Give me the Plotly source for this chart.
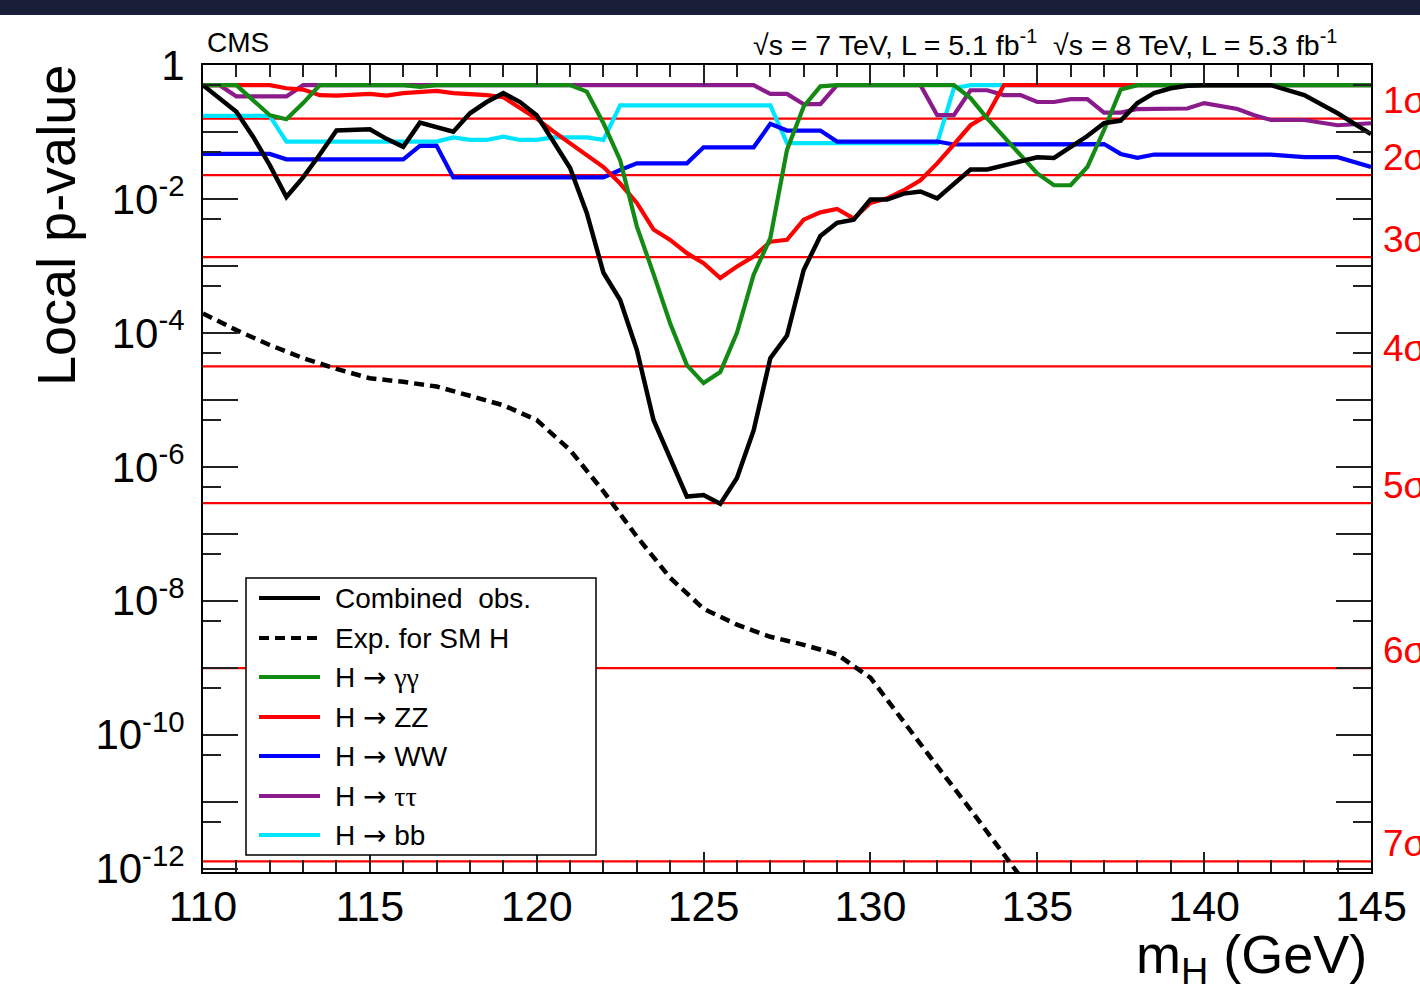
import math
import plotly.graph_objects as go

# ---------------- data ----------------
# Combined observed
m_obs = [110, 111, 111.5, 112, 112.5, 113, 113.5, 114, 115, 115.5, 116, 116.5, 117.5, 118, 118.5,
         119, 119.5, 120, 120.5, 121, 121.5, 122, 122.5, 123, 123.5, 124.5, 125, 125.5, 126, 126.5,
         127, 127.5, 128, 128.5, 129, 129.5, 130, 130.5, 131, 131.5, 132, 132.5, 133, 133.5, 134,
         134.5, 135, 135.5, 136, 136.5, 137, 137.5, 138, 138.5, 139, 139.5, 140, 142, 143, 144, 145]
p_obs = [0.5, 0.20, 0.085, 0.032, 0.0107, 0.021, 0.046, 0.105, 0.11, 0.079, 0.060, 0.138, 0.101, 0.19, 0.28,
         0.38, 0.28, 0.178, 0.072, 0.029, 0.0062, 7.9e-4, 3.1e-4, 5.6e-5, 5.0e-6, 3.6e-7, 3.8e-7, 2.8e-7, 6.8e-7, 3.5e-6,
         4.2e-5, 9.1e-5, 8.7e-4, 2.8e-3, 4.4e-3, 4.9e-3, 9.8e-3, 9.8e-3, 0.012, 0.0129, 0.0102, 0.017, 0.0275, 0.0275, 0.032,
         0.037, 0.042, 0.041, 0.059, 0.087, 0.135, 0.148, 0.27, 0.38, 0.45, 0.49, 0.5, 0.5, 0.355, 0.19, 0.093]

# Expected for SM Higgs
m_exp = [110, 111, 112, 113, 114, 115, 116, 117, 118, 119, 120, 121, 122, 123, 124, 125, 126,
         127, 128, 129, 130, 131, 132, 133, 134, 135]
p_exp = [1.95e-4, 1.1e-4, 6.6e-5, 4.2e-5, 2.9e-5, 2.1e-5, 1.86e-5, 1.58e-5, 1.15e-5, 8.3e-6, 5.0e-6,
         1.78e-6, 4.3e-7, 9.1e-8, 2.2e-8, 7.6e-9, 4.4e-9, 2.9e-9, 2.2e-9, 1.58e-9, 7.1e-10, 1.6e-10,
         3.4e-11, 7.6e-12, 1.66e-12, 3.5e-13]

# H -> gamma gamma
m_gg = [110, 111, 112, 112.5, 113, 113.5, 116, 116.5, 117, 121, 121.5, 122, 122.5, 123, 123.5, 124,
        124.5, 125, 125.5, 126, 126.5, 127, 127.5, 128, 128.5, 129, 132.5, 133, 133.5, 134, 134.5,
        135, 135.5, 136, 136.5, 137, 137.5, 138, 145]
p_gg = [0.5, 0.5, 0.178, 0.155, 0.27, 0.5, 0.5, 0.47, 0.5, 0.5, 0.40, 0.135, 0.038, 3.9e-3, 7.6e-4, 1.38e-4,
        3.3e-5, 1.78e-5, 2.6e-5, 1.0e-4, 7.4e-4, 2.6e-3, 0.054, 0.24, 0.48, 0.5, 0.5, 0.32, 0.16, 0.083, 0.045,
        0.024, 0.016, 0.016, 0.030, 0.107, 0.43, 0.5, 0.5]

# H -> ZZ
m_zz = [110, 112, 112.5, 113, 113.5, 114, 115, 115.5, 116, 116.5, 117, 117.5, 118.5, 119, 119.5, 120,
        120.5, 121, 121.5, 122, 122.5, 123, 123.5, 124, 124.5, 125, 125.5, 126, 126.5, 127, 127.5, 128,
        128.5, 129, 129.5, 130, 130.5, 131, 131.5, 132, 132.5, 133, 133.5, 134, 145]
p_zz = [0.5, 0.5, 0.45, 0.43, 0.355, 0.35, 0.37, 0.35, 0.38, 0.40, 0.41, 0.38, 0.355, 0.33, 0.224, 0.158,
        0.102, 0.068, 0.046, 0.030, 0.017, 8.7e-3, 3.5e-3, 2.45e-3, 1.55e-3, 1.1e-3, 6.6e-4, 9.8e-4, 1.38e-3,
        2.3e-3, 2.45e-3, 4.9e-3, 6.3e-3, 7.1e-3, 5.1e-3, 8.7e-3, 0.0102, 0.0135, 0.019, 0.034, 0.065, 0.126,
        0.178, 0.5, 0.5]

# H -> WW
m_ww = [110, 112, 112.5, 116, 116.5, 117, 117.5, 122, 122.5, 123, 124.5, 125, 126.5, 127, 127.5, 128.5,
        129, 132, 132.5, 137, 137.5, 138, 138.5, 142, 143, 144, 145]
p_ww = [0.047, 0.047, 0.039, 0.039, 0.062, 0.062, 0.021, 0.021, 0.027, 0.034, 0.034, 0.059, 0.059, 0.132,
        0.105, 0.105, 0.072, 0.072, 0.065, 0.066, 0.047, 0.041, 0.046, 0.046, 0.042, 0.042, 0.030]

# H -> tau tau
m_tt = [110, 110.5, 111, 112.5, 113, 126.5, 127, 127.5, 128, 128.5, 129, 131.5, 132, 132.5, 133, 133.5,
        134, 134.5, 135, 135.5, 136, 136.5, 137, 137.5, 138, 138.5, 139, 139.5, 140, 140.5, 141, 141.5,
        142, 143, 144, 145]
p_tt = [0.5, 0.5, 0.34, 0.34, 0.5, 0.5, 0.37, 0.37, 0.26, 0.26, 0.5, 0.5, 0.178, 0.178, 0.42, 0.42,
        0.355, 0.355, 0.28, 0.28, 0.31, 0.31, 0.195, 0.195, 0.22, 0.22, 0.224, 0.224, 0.27, 0.24, 0.22, 0.178,
        0.151, 0.151, 0.126, 0.135]

# H -> bb
m_bb = [110, 112, 112.5, 117, 117.5, 118, 118.5, 119, 119.5, 120, 120.5, 121.5, 122, 122.5, 127, 127.5,
        132, 132.5, 133, 145]
p_bb = [0.174, 0.174, 0.072, 0.072, 0.083, 0.076, 0.076, 0.085, 0.076, 0.076, 0.083, 0.083, 0.076, 0.25,
        0.25, 0.068, 0.068, 0.45, 0.5, 0.5]

# significance reference lines
sig_p = [0.1587, 0.02275, 1.350e-3, 3.167e-5, 2.867e-7, 9.866e-10, 1.280e-12]
sig_lbl = ["1σ", "2σ", "3σ", "4σ", "5σ", "6σ", "7σ"]

x_ticks = [110, 115, 120, 125, 130, 135, 140, 145]
y_decades = [0, -1, -2, -3, -4, -5, -6, -7, -8, -9, -10, -11, -12]

ARROW = "<span style='font-family:DejaVu Sans'>→</span>"
SERIF = "<span style='font-family:Liberation Serif'>%s</span>"
legend_names = ["Combined  obs.", "Exp. for SM H",
                "H " + ARROW + " " + SERIF % "γγ",
                "H " + ARROW + " ZZ", "H " + ARROW + " WW",
                "H " + ARROW + " " + SERIF % "ττ",
                "H " + ARROW + " bb"]

# ---------------- styling ----------------
FONT = "Liberation Sans"
C_OBS, C_GG, C_ZZ, C_WW, C_TT, C_BB = "#000000", "#138a13", "#ff0000", "#0000ff", "#8b1a8b", "#00e5ff"
W = 1420
H = 1003
L, R, T, B = 203, 49, 65, 131
PW, PH = W - L - R, H - T - B


def px(xpix):
    return (xpix - L) / PW


def py(ypix):
    return (H - B - ypix) / PH


fig = go.Figure()

for p in sig_p:
    fig.add_trace(go.Scatter(x=[110, 145], y=[p, p], mode="lines",
                             line=dict(color="#ff0000", width=2.2),
                             hoverinfo="skip", showlegend=False))

series = [
    (m_bb, p_bb, C_BB, "solid", 4.2),
    (m_tt, p_tt, C_TT, "solid", 4.2),
    (m_ww, p_ww, C_WW, "solid", 4.2),
    (m_zz, p_zz, C_ZZ, "solid", 4.2),
    (m_gg, p_gg, C_GG, "solid", 4.2),
    (m_exp, p_exp, C_OBS, "10px,6px", 4.5),
    (m_obs, p_obs, C_OBS, "solid", 4.5),
]
for mx, pv, col, dash, w in series:
    fig.add_trace(go.Scatter(x=mx, y=pv, mode="lines",
                             line=dict(color=col, width=w, dash=dash),
                             showlegend=False))

tick_text = []
for d in y_decades:
    if d == 0:
        tick_text.append("1")
    elif d % 2 == 0:
        tick_text.append("10<sup>%d</sup>" % d)
    else:
        tick_text.append("")

fig.update_layout(
    width=W, height=H, autosize=False,
    margin=dict(l=L, r=R, t=T, b=B, pad=0),
    paper_bgcolor="white", plot_bgcolor="white",
    font=dict(family=FONT, color="black"),
    xaxis=dict(range=[110, 145], tickvals=x_ticks, ticktext=[str(v) for v in x_ticks],
               ticks="inside", ticklen=20, tickwidth=1.5, tickcolor="#222",
               minor=dict(dtick=1, ticks="inside", ticklen=12, tickwidth=1.5, tickcolor="#222",
                          showgrid=False),
               showline=True, linecolor="black", linewidth=2, mirror="allticks",
               showgrid=False, zeroline=False,
               tickfont=dict(size=43, family=FONT, color="black"), ticklabelstandoff=-5),
    yaxis=dict(type="log", range=[-12.05, 0],
               tickvals=[10.0 ** d for d in y_decades], ticktext=tick_text,
               ticks="inside", ticklen=35, tickwidth=1.5, tickcolor="#222",
               minor=dict(tickvals=[5 * 10.0 ** (d - 1) for d in y_decades[:-1]], ticks="inside",
                          ticklen=18, tickwidth=1.5, tickcolor="#222", showgrid=False),
               showline=True, linecolor="black", linewidth=2, mirror="allticks",
               showgrid=False, zeroline=False,
               tickfont=dict(size=42, family=FONT, color="black"), ticklabelstandoff=8),
)

ann = []
# header texts
ann.append(dict(text="CMS", x=px(205), y=py(43), xref="paper", yref="paper",
                xanchor="left", yanchor="middle", showarrow=False,
                font=dict(size=28, family=FONT, color="black")))
ann.append(dict(text="√s = 7 TeV, L = 5.1 fb<sup>-1</sup>  √s = 8 TeV, L = 5.3 fb<sup>-1</sup>",
                x=px(1339), y=py(43), xref="paper", yref="paper",
                xanchor="right", yanchor="middle", showarrow=False,
                font=dict(size=28.5, family=FONT, color="black")))
# axis titles
ann.append(dict(text="Local p-value", x=px(56), y=py(226), xref="paper", yref="paper",
                xanchor="center", yanchor="middle", textangle=-90, showarrow=False,
                font=dict(size=54, family=FONT, color="black")))
ann.append(dict(text="m<sub>H</sub> (GeV)", x=px(1369), y=py(958), xref="paper", yref="paper",
                xanchor="right", yanchor="middle", showarrow=False,
                font=dict(size=54, family=FONT, color="black")))
# sigma labels
for p, lbl in zip(sig_p, sig_lbl):
    ann.append(dict(text=lbl, x=px(1381), y=math.log10(p), xref="paper", yref="y",
                    xanchor="left", yanchor="middle", yshift=18, showarrow=False,
                    font=dict(size=37, family=FONT, color="#ff0000")))

# manual legend (box, samples, labels)
shapes = []
shapes.append(dict(type="rect", xref="paper", yref="paper",
                   x0=px(246), x1=px(596), y0=py(855), y1=py(578),
                   line=dict(color="black", width=1.5), fillcolor="white", layer="above"))
leg_y = [598, 638, 677, 717, 756, 796, 835]
leg_style = [(C_OBS, "solid"), (C_OBS, "10px,6px"), (C_GG, "solid"), (C_ZZ, "solid"),
             (C_WW, "solid"), (C_TT, "solid"), (C_BB, "solid")]
for yy, (col, dash), name in zip(leg_y, leg_style, legend_names):
    shapes.append(dict(type="line", xref="paper", yref="paper",
                       x0=px(259), x1=px(320), y0=py(yy), y1=py(yy),
                       line=dict(color=col, width=4.2, dash=dash), layer="above"))
    ann.append(dict(text=name, x=px(333), y=py(yy), xref="paper", yref="paper",
                    xanchor="left", yanchor="middle", showarrow=False,
                    font=dict(size=28, family=FONT, color="black")))

# dark strip at the very top of the picture
shapes.append(dict(type="rect", xref="paper", yref="paper",
                   x0=px(-5), x1=px(1425), y0=py(15), y1=py(-5),
                   line=dict(width=0), fillcolor="#181d38", layer="above"))

fig.update_layout(annotations=ann, shapes=shapes)

fig.write_html("out.html", config={"displayModeBar": False},
               post_script="document.body.style.margin='0';document.body.style.overflow='hidden';")
